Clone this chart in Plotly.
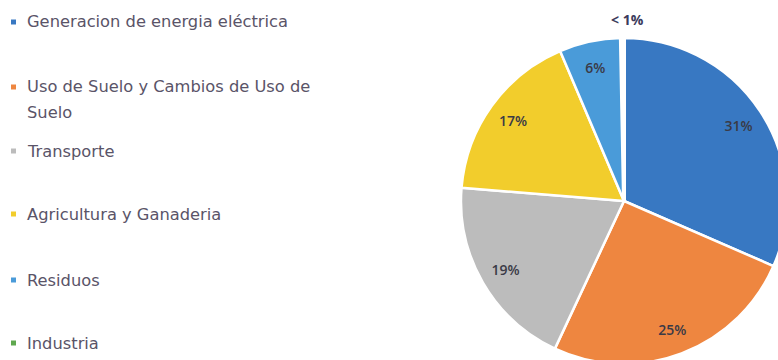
import plotly.graph_objects as go

# Emission sources and their share (%)
categories = [
    "Generacion de energia eléctrica",
    "Uso de Suelo y Cambios de Uso de<br>Suelo",
    "Transporte",
    "Agricultura y Ganaderia",
    "Residuos",
    "Industria",
]
shares = [31, 25, 19, 17, 6, 0.3]
colors = ["#3878c2", "#ee8640", "#bcbcbc", "#f2cd2c", "#4a9bd9", "#5fa84f"]

labels_txt = [f"{v}%" if v >= 1 else "< 1%" for v in shares]
inside_pos = ["inside" if v >= 1 else "none" for v in shares]
border_w = [2.5 if v >= 1 else 4 for v in shares]

W, H = 790, 366
cx, cy, r = 624, 201, 163
domain = dict(
    x=[(cx - r) / W, (cx + r) / W],
    y=[1 - (cy + r) / H, 1 - (cy - r) / H],
)
plain_names = [c.replace("<br>", " ") for c in categories]

fig = go.Figure()

# Coloured slices
fig.add_trace(
    go.Pie(
        labels=plain_names,
        values=shares,
        sort=False,
        direction="clockwise",
        rotation=0,
        marker=dict(colors=colors, line=dict(color="white", width=border_w)),
        textinfo="none",
        domain=domain,
        showlegend=False,
        hoverinfo="label+percent",
    )
)

# Transparent ring on top carrying the percentage labels near the rim
fig.add_trace(
    go.Pie(
        labels=plain_names,
        values=shares,
        sort=False,
        direction="clockwise",
        rotation=0,
        hole=0.68,
        marker=dict(colors=["rgba(0,0,0,0)"] * len(shares), line=dict(width=0)),
        text=labels_txt,
        textinfo="text",
        textposition=inside_pos,
        insidetextorientation="horizontal",
        textfont=dict(family="Open Sans", size=14, color="#3a3a46", weight=600),
        domain=domain,
        showlegend=False,
        hoverinfo="skip",
    )
)

# Label for the smallest share, above the top of the pie
fig.add_annotation(
    x=(cx + 3) / W, y=1 - 8 / H, xref="paper", yref="paper",
    text=labels_txt[-1], showarrow=False, xanchor="center", yanchor="top",
    font=dict(family="Open Sans", size=14, color="#3b3b5c", weight=700),
)

# Legend drawn on the left: a small coloured square and the category name
legend_y = [22, 87, 151, 214, 280, 343]
line_step = 25
for name, col, ly in zip(categories, colors, legend_y):
    fig.add_shape(
        type="rect", xref="paper", yref="paper",
        x0=11 / W, x1=16 / W, y0=1 - (ly + 2.5) / H, y1=1 - (ly - 2.5) / H,
        fillcolor=col, line=dict(width=0),
    )
    for k, line in enumerate(name.split("<br>")):
        fig.add_annotation(
            x=25 / W, y=1 - (ly + k * line_step) / H, xref="paper", yref="paper",
            text=line, showarrow=False, xanchor="left", yanchor="middle",
            align="left",
            font=dict(family="DejaVu Sans", size=16.3, color="#5a5468"),
        )

fig.update_layout(
    width=W, height=H, autosize=False,
    margin=dict(l=0, r=0, t=0, b=0),
    paper_bgcolor="white", plot_bgcolor="white",
)

fig.write_html(
    "out.html",
    post_script="document.body.style.margin='0';document.body.style.overflow='hidden';",
)
